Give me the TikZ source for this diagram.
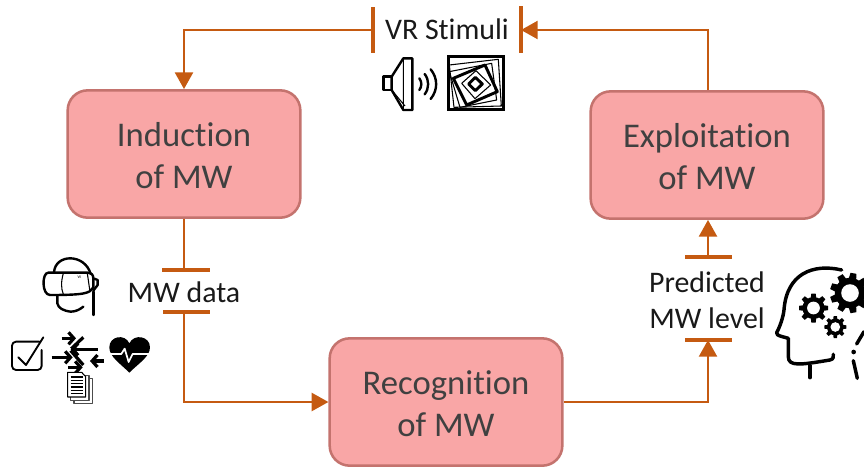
\documentclass[tikz,border=0pt]{standalone}
\usepackage{fontspec}
\setmainfont[Ligatures=NoCommon]{Carlito}
\usetikzlibrary{arrows.meta}
\definecolor{boxfill}{HTML}{F9A6A6}
\definecolor{boxline}{HTML}{C4736E}
\definecolor{flow}{HTML}{C55A11}
\newcommand{\lowerstrut}{\rule{0pt}{21pt}}
\tikzset{
  x=0.75pt,y=-0.75pt,
  mwbox/.style={draw=boxline,line width=1.9pt,fill=boxfill,rounded corners=15pt,minimum width=174.5pt,minimum height=95.5pt,inner sep=0pt,align=center,font=\fontsize{26}{31.5}\selectfont,text=black!75},
  lbl/.style={inner sep=0pt,align=center,font=\fontsize{22.4}{27}\selectfont,text=black!90},
  flowline/.style={draw=flow,line width=1.7pt},
  flowarrow/.style={flowline,-{Triangle[length=12.5pt,width=13.5pt]}},
  bar/.style={draw=flow,line width=2.4pt},
  ico/.style={draw=black,line width=1.8pt,line cap=round,line join=round},
  icothin/.style={draw=black,line width=0.8pt,line join=round},
}
\newcommand{\gearicon}[4]{% x, y, outer radius, tooth count
  \fill[black] (#1,#2) circle[radius=0.76*#3];
  \foreach \a in {1,...,#4}{
    \fill[black,shift={(#1,#2)},rotate=\a*360/#4] (0.62*#3,-0.2*#3) -- (1.0*#3,-0.15*#3) -- (1.0*#3,0.15*#3) -- (0.62*#3,0.2*#3) -- cycle;
  }
  \fill[white] (#1,#2) circle[radius=0.44*#3];
}
\begin{document}
\begin{tikzpicture}
\useasboundingbox (0,0) rectangle (864,468);
% boxes
\node[mwbox] (ind) at (184,154) {\lowerstrut Induction\\of MW};
\node[mwbox] (exp) at (707,155) {\lowerstrut Exploitation\\of MW};
\node[mwbox] (rec) at (446,402) {\lowerstrut Recognition\\of MW};
% labels
\node[lbl] (vr) at (447,29) {VR Stimuli};
\node[lbl] (mwd) at (184,292) {MW data};
\node[lbl] (pred) at (707,300) {Predicted\\MW level};
% bars
\coordinate (vrL) at (373,30);
\coordinate (vrR) at (521,30);
\coordinate (dT) at (186,270);
\coordinate (dB) at (186,312);
\coordinate (pT) at (708,257);
\coordinate (pB) at (708,340);
\coordinate (c1) at (184,30);
\coordinate (c2) at (708,30);
\coordinate (c3) at (184,402);
\coordinate (c4) at (708,402);
\draw[bar] (373,7) -- (373,53);
\draw[bar] (521,6) -- (521,53);
\draw[bar] (162,270) -- (210,270);
\draw[bar] (163,312) -- (210,312);
\draw[bar] (685,257) -- (732,257);
\draw[bar] (685,340) -- (732,340);
% connectors
\draw[flowarrow] (vrL) -- (c1) -- (ind.north -| c1);
\draw[flowarrow] (exp.north -| c2) -- (c2) -- (vrR);
\draw[flowline] (ind.south -| c1) -- (c1 |- dT);
\draw[flowarrow] (c1 |- dB) -- (c3) -- (rec.west |- c3);
\draw[flowarrow] (rec.east |- c4) -- (c4) -- (pB);
\draw[flowarrow] (pT) -- (exp.south -| pT);
% speaker
\begin{scope}[shift={(360,0)},scale=0.3333]
  \draw[ico] (95,230) -- (70,230) -- (70,270) -- (95,270);
  \draw[ico] (95,230) -- (130,175) -- (157,175) -- (157,330) -- (130,330) -- (95,270) -- cycle;
  \draw[icothin] (130,175) -- (130,330) (95,270) -- (135,318);
  \draw[ico] (178,235) .. controls (186,245) and (186,260) .. (178,270);
  \draw[ico] (194,222) .. controls (208,240) and (208,265) .. (194,283);
  \draw[ico] (212,208) .. controls (234,235) and (234,270) .. (212,297);
  % spiral squares
  \draw[black,line width=2pt] (265,170) rectangle (430,328);
  \draw[icothin] (268,195) -- (415,178) -- (424,318) -- (282,322) -- cycle;
  \draw[icothin] (268,215) -- (395,190) -- (410,300) -- (300,322) -- cycle;
  \draw[black,line width=2.2pt,line join=round] (280,235) -- (375,195) -- (412,275) -- (320,315) -- cycle;
  \draw[icothin] (305,250) -- (348,212) -- (392,255) -- (345,296) -- cycle;
  \draw[black,line width=2.2pt,line join=round] (326,252) -- (346,232) -- (367,252) -- (346,272) -- cycle;
\end{scope}
% headset
\begin{scope}[shift={(0,250)},scale=0.3333]
  \draw[ico] (162,68) .. controls (165,10) and (255,10) .. (272,72);
  \draw[ico] (145,68) -- (262,68) .. controls (275,68) and (280,75) .. (280,85) -- (280,112) .. controls (270,130) and (255,135) .. (150,135) .. controls (125,135) and (125,68) .. (145,68) -- cycle;
  \draw[ico] (280,85) -- (293,90) -- (293,105) -- (280,122);
  \draw[icothin] (190,70) .. controls (183,95) and (183,115) .. (190,133);
  \draw[icothin] (262,70) -- (270,125);
  \node[inner sep=0pt,font=\fontsize{3}{3}\selectfont] (vrlogo) at (238,83) {W};
  \draw[ico] (172,137) -- (172,160) .. controls (175,175) and (190,182) .. (212,185) .. controls (228,185) and (240,178) .. (250,170);
  \draw[ico] (281,125) -- (281,195);
  % check box
  \draw[ico,rounded corners=3pt,line width=1.4pt] (118,275) -- (36,275) -- (36,360) -- (125,360) -- (125,300);
  \draw[ico,line width=1.4pt] (55,322) -- (78,345) -- (130,262);
  % interleaved arrows
  \draw[black,line width=2.4pt,-{Straight Barb[length=4pt,width=9pt]}] (185,265) -- (228,265);
  \draw[black,line width=2.4pt] (214,296) -- (250,262);
  \draw[black,line width=2.4pt,{Straight Barb[length=4pt,width=9pt]}-] (212,298) -- (295,298);
  \draw[black,line width=2.4pt,-{Straight Barb[length=4pt,width=9pt]}] (155,322) -- (218,322);
  \draw[black,line width=2.4pt] (212,302) -- (250,345);
  \draw[black,line width=2.4pt,{Straight Barb[length=4pt,width=9pt]}-] (270,333) -- (312,333);
  \draw[black,line width=2.4pt,-{Straight Barb[length=4pt,width=9pt]}] (204,352) -- (248,352);
  % heart
  \fill[black] (388,368) .. controls (360,340) and (328,320) .. (328,292) .. controls (328,258) and (375,250) .. (388,280) .. controls (402,250) and (450,258) .. (450,292) .. controls (450,320) and (416,340) .. (388,368) -- cycle;
  \draw[white,line width=1.3pt,line join=round] (330,312) -- (364,312) -- (374,296) -- (386,336) -- (398,312) -- (450,312);
  % documents
  \draw[icothin,fill=white,draw=black!70] (222,385) rectangle (277,460);
  \draw[icothin,fill=white,draw=black!70] (212,376) rectangle (267,451);
  \draw[icothin,fill=white] (203,367) -- (245,367) -- (257,380) -- (257,441) -- (203,441) -- cycle;
  \foreach \yy in {381,391,401,411,421,431}{\draw[icothin] (212,\yy) -- (250,\yy);}
\end{scope}
% head with gears
\begin{scope}[shift={(640,210)},scale=0.3333]
  \draw[black,line width=2.6pt,line cap=round,line join=round] (605,180) .. controls (520,160) and (440,190) .. (432,300) .. controls (430,320) and (420,350) .. (410,368) .. controls (408,378) and (430,380) .. (445,385) -- (445,440) .. controls (445,470) and (480,465) .. (570,450) .. controls (582,447) and (580,440) .. (580,433);
  \draw[black,line width=2.6pt,line cap=round] (510,467) -- (510,503);
  \draw[black,line width=2.6pt,line cap=round] (672,365) -- (650,402);
  \fill[black] (641,426) circle[radius=7];
  \draw[black,line width=2.6pt,line cap=round] (640,452) -- (652,505);
\end{scope}
\gearicon{850}{293}{20}{9}
\gearicon{813.5}{308}{14.5}{8}
\gearicon{835.3}{327}{11}{8}
\end{tikzpicture}
\end{document}
